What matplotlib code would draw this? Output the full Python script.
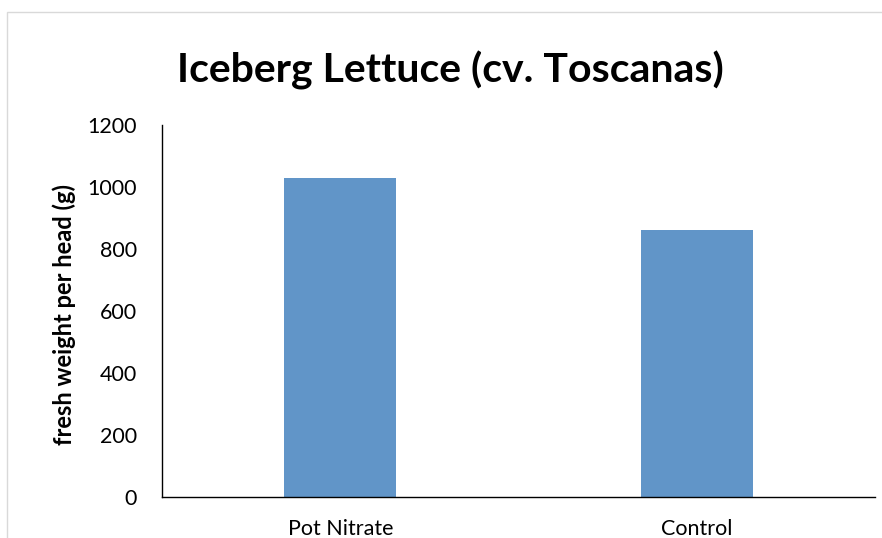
import matplotlib
matplotlib.use("Agg")
import matplotlib.pyplot as plt
from matplotlib.patches import Rectangle

categories = ["Pot Nitrate", "Control"]
values = [1028, 862]
yticks = [0, 200, 400, 600, 800, 1000, 1200]
title = "Iceberg Lettuce (cv. Toscanas)"
ylabel = "fresh weight per head (g)"

plt.rcParams['font.family'] = ['Lato', 'DejaVu Sans']

fig = plt.figure(figsize=(8.82, 5.38), dpi=100)
fig.patches.append(Rectangle((7/882, -0.1), 1.2, 1 - 12/538 + 0.1, transform=fig.transFigure,
                             fill=False, edgecolor='#d9d9d9', linewidth=1.0))
ax = fig.add_axes([162/882, 1 - 497/538, (875 - 162)/882, (497 - 125)/538])
ax.bar(range(len(categories)), values, width=0.314, color='#6195c8', zorder=2)
ax.set_xlim(-0.5, 1.5)
ax.set_ylim(0, 1200)
ax.set_yticks(yticks)
ax.set_xticks(range(len(categories)))
ax.set_xticklabels(categories, fontsize=15.5)
ax.tick_params(axis='y', length=0, pad=18, labelsize=15.5)
ax.tick_params(axis='x', length=0, pad=16)
for s in ['top', 'right']:
    ax.spines[s].set_visible(False)
for s in ['left', 'bottom']:
    ax.spines[s].set_linewidth(1.0)
    ax.spines[s].set_color('black')
ax.set_ylabel(ylabel, fontsize=17, fontweight='bold')
ax.yaxis.set_label_coords(-0.121, 0.49)
fig.text(450/882, 1 - 70/538, title, fontsize=29.5, fontweight='bold', ha='center', va='center')
fig.savefig("out.png", dpi=100)
